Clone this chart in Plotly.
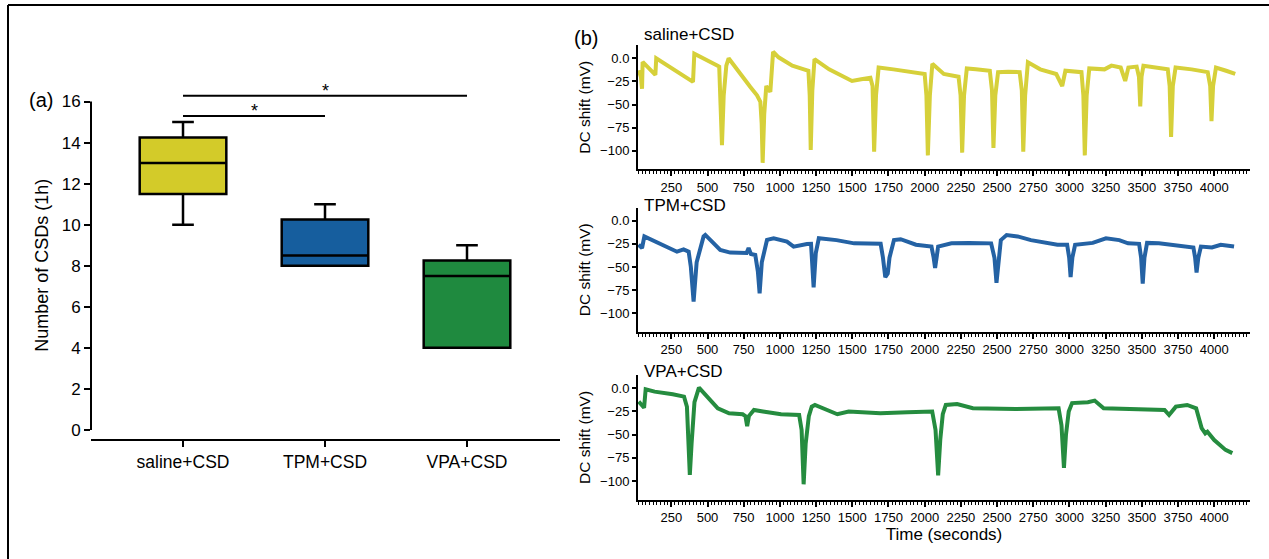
import plotly.graph_objects as go

W, H = 1269, 559

# ---------------- data: panel (a) box plot ----------------
categories = ["saline+CSD", "TPM+CSD", "VPA+CSD"]
box_q1 = [11.5, 8.0, 4.0]
box_median = [13.0, 8.5, 7.5]
box_q3 = [14.25, 10.25, 8.25]
box_lower = [10.0, 8.0, 4.0]
box_upper = [15.0, 11.0, 9.0]
box_colors = ["#d3cb29", "#165e9e", "#1f8a3f"]
count_ticks = [0, 2, 4, 6, 8, 10, 12, 14, 16]

sig_pairs = [(0, 1), (0, 2)]
sig_heights = [15.3, 16.28]
sig_labels = ["*", "*"]

# ---------------- data: panel (b) DC traces ----------------
saline_t = [25, 40, 48, 52, 140, 146, 400, 409, 570, 581, 590, 600, 612, 630, 646, 704, 796, 842,
            865, 874, 881, 892, 906, 934, 953, 991, 1086, 1166, 1197, 1206, 1213, 1224, 1239, 1340,
            1435, 1498, 1562, 1625, 1640, 1651, 1664, 1682, 1784, 1911, 2000, 2012, 2022, 2036, 2053,
            2132, 2234, 2248, 2259, 2272, 2291, 2354, 2450, 2465, 2475, 2488, 2507, 2576, 2656, 2671,
            2681, 2694, 2713, 2798, 2909, 2950, 2972, 3083, 3096, 3106, 3119, 3137, 3242, 3290, 3354,
            3385, 3407, 3464, 3480, 3489, 3498, 3511, 3622, 3679, 3692, 3702, 3714, 3733, 3844, 3955,
            3972, 3981, 3992, 4012, 4082, 4145]
saline_v = [-13, -20, -33, -4, -18, 0, -25.5, 5, -8, -9, -50, -94, -40, -8, 0, -12.7, -31, -40,
            -47, -70, -113, -60, -30, -36.4, 7, 1, -8, -12, -13.5, -40, -99, -35, -1, -12,
            -19, -24.5, -22.6, -21, -30, -101, -40, -10, -12, -15, -17, -40, -105, -40, -6,
            -17, -20, -40, -102, -40, -11, -12, -13.5, -35, -97, -40, -15, -14.6, -15, -35,
            -101, -40, -4.4, -12, -17, -30, -13.5, -15, -40, -105, -40, -11, -12, -8, -10,
            -24.5, -10, -9, -20, -52, -20, -8, -10, -12, -30, -85, -30, -10, -12, -15,
            -30, -68, -30, -10, -13.5, -17]

tpm_t = [24, 48, 64, 174, 289, 335, 370, 385, 404, 425, 473, 485, 542, 588, 657, 749, 770, 784,
         800, 830, 848, 860, 875, 911, 957, 1049, 1095, 1187, 1215, 1233, 1248, 1269, 1391, 1513,
         1696, 1712, 1728, 1745, 1757, 1788, 1834, 1940, 2047, 2062, 2072, 2084, 2093, 2185, 2307,
         2459, 2482, 2496, 2510, 2526, 2566, 2642, 2734, 2841, 2917, 2984, 2998, 3008, 3020, 3039,
         3161, 3252, 3344, 3405, 3481, 3495, 3506, 3518, 3536, 3618, 3771, 3856, 3868, 3878, 3890,
         3908, 3984, 4045, 4137]
tpm_v = [-26, -29.5, -17, -24.5, -33.5, -31, -33.5, -50, -87.5, -45, -17, -15.4, -24.5, -31.6, -34.5,
         -35, -35, -29.5, -36, -37, -55, -78.4, -45, -20.8, -19, -22.6, -28, -25.2, -25, -72,
         -35, -19, -21, -24.5, -25, -40, -61, -57, -40, -21, -20, -26, -28, -40, -51, -38, -28,
         -24.5, -24, -24.5, -40, -67, -40, -21, -15.5, -17, -21, -24.5, -26, -26, -40, -61, -40,
         -26, -24, -19, -21, -24.5, -25, -40, -68, -40, -24, -24.5, -28, -29, -40, -56, -40, -28,
         -29, -26, -28]

vpa_t = [25, 42, 62, 73, 135, 260, 338, 358, 370, 378, 390, 410, 441, 509, 571, 649, 743, 762,
         774, 786, 821, 883, 1008, 1133, 1150, 1164, 1178, 1200, 1220, 1242, 1320, 1397, 1475,
         1694, 1881, 2052, 2075, 2093, 2108, 2125, 2146, 2224, 2333, 2629, 2925, 2945, 2962, 2976,
         2995, 3018, 3127, 3174, 3236, 3501, 3657, 3688, 3735, 3813, 3875, 3913, 3938, 3953,
         4000, 4078, 4125]
vpa_v = [-14.4, -18, -21, -1, -3.6, -6.5, -9, -20, -60, -93.5, -60, -15, 0.7, -10.8, -21.6, -27, -28,
         -30, -41, -30, -23.4, -25, -28, -28.8, -45, -103.6, -60, -30, -19.8, -18, -23.4, -28, -25,
         -27, -26, -25, -45, -94, -55, -28, -18, -17, -21.6, -22.3, -21.6, -40, -86, -50,
         -25, -16, -15, -13.3, -21.6, -22.3, -23.4, -28.8, -19.8, -18, -21.6, -43, -48.6, -46.8,
         -55.8, -66.5, -70]

trace_names = ["saline+CSD", "TPM+CSD", "VPA+CSD"]
trace_colors = ["#d6d03a", "#2462a4", "#258c3f"]
dc_ticks = [0, -25, -50, -75, -100]
dc_tick_labels = ["0.0", "\u221225", "\u221250", "\u221275", "\u2212100"]

FONT = "Liberation Sans, Arial, Helvetica, sans-serif"

def px_x(p):
    return p / W

def px_y(p):
    return 1 - p / H

fig = go.Figure()

# ---- box plot ----
for cat, q1, med, q3, lo, hi, col in zip(categories, box_q1, box_median, box_q3,
                                         box_lower, box_upper, box_colors):
    fig.add_trace(go.Box(
        x=[cat], q1=[q1], median=[med], q3=[q3], lowerfence=[lo], upperfence=[hi],
        fillcolor=col, line=dict(color="black", width=2.5), width=0.61,
        whiskerwidth=0.25, boxpoints=False, showlegend=False,
        xaxis="x", yaxis="y"))

# ---- traces ----
series = [(saline_t, saline_v), (tpm_t, tpm_v), (vpa_t, vpa_v)]
for i, ((tt, vv), col) in enumerate(zip(series, trace_colors)):
    fig.add_trace(go.Scatter(
        x=tt, y=vv, mode="lines", line=dict(color=col, width=4),
        showlegend=False, xaxis="x%d" % (i + 2), yaxis="y%d" % (i + 2)))

box_dom = [px_x(91), px_x(560)]
layout = dict(
    width=W, height=H, margin=dict(l=0, r=0, t=0, b=0),
    paper_bgcolor="white", plot_bgcolor="white",
    font=dict(family=FONT, color="black", size=14),
    boxmode="overlay",
    xaxis=dict(domain=box_dom, type="category", range=[-0.648, 2.655],
               showline=True, linecolor="black", linewidth=2,
               ticks="outside", ticklen=6, tickwidth=2, tickcolor="black",
               tickfont=dict(size=17.5), showgrid=False, zeroline=False,
               anchor="y", fixedrange=True),
    yaxis=dict(domain=[px_y(439), px_y(81)], range=[-0.44, 17.0],
               tickvals=count_ticks, showline=False,
               ticks="outside", ticklen=6, tickwidth=2, tickcolor="black",
               tickfont=dict(size=17), showgrid=False, zeroline=False,
               anchor="x"),
)

panel_doms = [(px_y(169.3), px_y(45.3)), (px_y(331.8), px_y(207.7)), (px_y(499.5), px_y(375.3))]
for i, dom in enumerate(panel_doms):
    n = i + 2
    xa = dict(domain=[px_x(638), px_x(1250)], range=[20, 4247],
              tickmode="linear", tick0=250, dtick=250,
              showline=True, linecolor="black", linewidth=2,
              ticks="outside", ticklen=5, tickwidth=1.5, tickcolor="black",
              minor=dict(dtick=25, ticks="outside", ticklen=3, tickwidth=1, tickcolor="black"),
              tickfont=dict(size=13), showgrid=False, zeroline=False,
              anchor="y%d" % n)
    if n == 4:
        xa["title"] = dict(text="Time (seconds)", font=dict(size=17), standoff=0)
    ya = dict(domain=list(dom), range=[-120, 14], tickvals=dc_ticks, ticktext=dc_tick_labels,
              showline=True, linecolor="black", linewidth=2,
              ticks="outside", ticklen=4, tickwidth=1.5, tickcolor="black",
              tickfont=dict(size=13), showgrid=False, zeroline=False,
              title=dict(text="DC shift (mV)", font=dict(size=15.5), standoff=6),
              anchor="x%d" % n)
    layout["xaxis%d" % n] = xa
    layout["yaxis%d" % n] = ya

fig.update_layout(**layout)

shapes = []
# y-axis line of box plot (0..16 only, offset style)
shapes.append(dict(type="line", xref="paper", x0=box_dom[0], x1=box_dom[0],
                   yref="y", y0=count_ticks[0], y1=count_ticks[-1],
                   line=dict(color="black", width=2)))
# significance bars
for (a, b), h in zip(sig_pairs, sig_heights):
    shapes.append(dict(type="line", xref="x", yref="y", x0=categories[a], x1=categories[b],
                       y0=h, y1=h, line=dict(color="black", width=2)))
# frame (top and left)
shapes.append(dict(type="line", xref="paper", yref="paper", x0=px_x(8), x1=1,
                   y0=px_y(5), y1=px_y(5), line=dict(color="black", width=2)))
shapes.append(dict(type="line", xref="paper", yref="paper", x0=px_x(8), x1=px_x(8),
                   y0=px_y(5), y1=0, line=dict(color="black", width=2)))

annotations = []
for (a, b), h, lab in zip(sig_pairs, sig_heights, sig_labels):
    annotations.append(dict(x=(a + b) / 2, y=h, xref="x", yref="y", text=lab,
                            showarrow=False, yanchor="bottom", yshift=-7,
                            font=dict(size=18)))
# y title of box plot, centred on the 0..16 axis line
annotations.append(dict(x=px_x(42), y=(count_ticks[0] + count_ticks[-1]) / 2,
                        xref="paper", yref="y", text="Number of CSDs (1h)", textangle=-90,
                        showarrow=False, xanchor="center", yanchor="middle",
                        font=dict(size=18)))
annotations.append(dict(x=px_x(41), y=px_y(100), xref="paper", yref="paper", text="(a)",
                        showarrow=False, xanchor="center", yanchor="middle",
                        font=dict(size=20)))
annotations.append(dict(x=px_x(586), y=px_y(38), xref="paper", yref="paper", text="(b)",
                        showarrow=False, xanchor="center", yanchor="middle",
                        font=dict(size=20)))
title_y = [35, 205, 371]
for name, ty in zip(trace_names, title_y):
    annotations.append(dict(x=px_x(642), y=px_y(ty), xref="paper", yref="paper", text=name,
                            showarrow=False, xanchor="left", yanchor="middle",
                            font=dict(size=17)))

fig.update_layout(shapes=shapes, annotations=annotations)

fig.write_html("out.html", config={"displayModeBar": False},
               post_script="document.body.style.margin='0';")
